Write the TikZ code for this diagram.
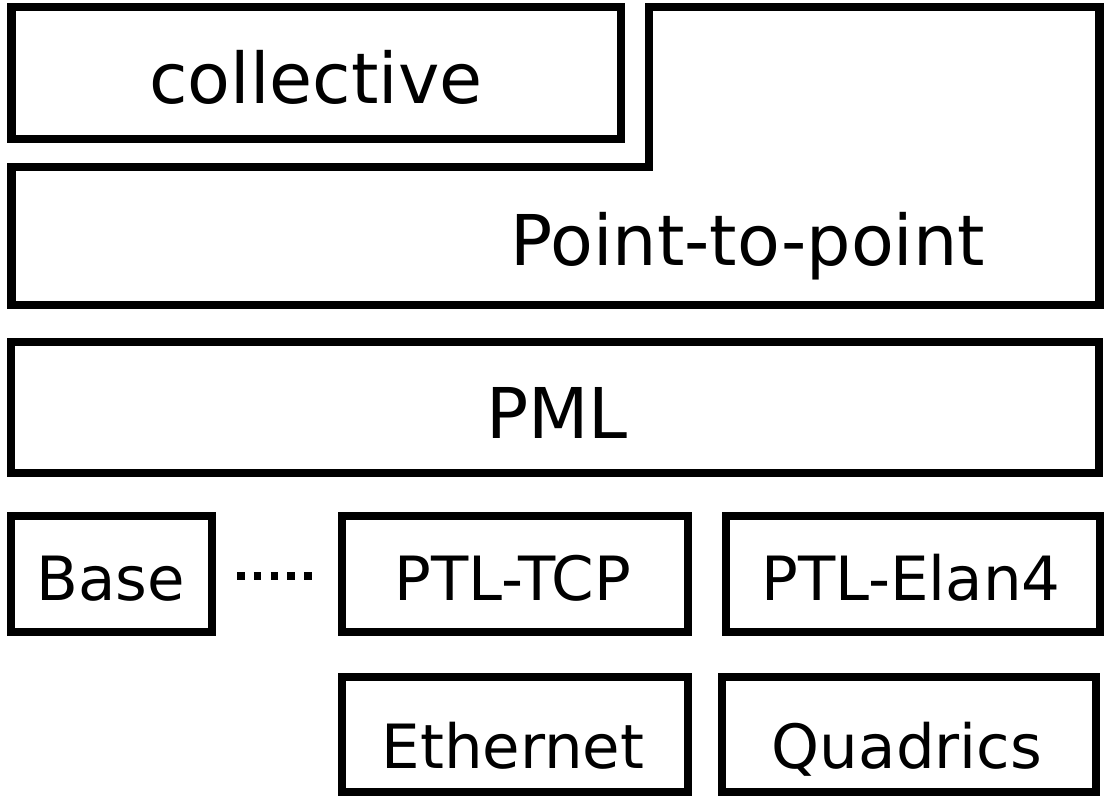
\documentclass[tikz,border=0pt]{standalone}
\usepackage{fontspec}
\setmainfont{DejaVu Sans}
\usetikzlibrary{fit}

\tikzset{
  layer/.style={draw=black, line width=8.5pt, line join=miter, inner sep=0pt, fill=none},
  bigtxt/.style={anchor=base, inner sep=0pt, font=\fontsize{70}{84}\selectfont},
  smalltxt/.style={anchor=base, inner sep=0pt, font=\fontsize{61}{73}\selectfont},
  dotline/.style={draw=black, line width=8pt, dash pattern=on 7.5pt off 9.2pt}
}

\begin{document}
\begin{tikzpicture}[x=1pt, y=-1pt]
  \useasboundingbox[fill=white] (0,0) rectangle (1105,797);

  % collective layer
  \node[layer, fit={(11.5,7) (621,139)}] (coll) {};
  \node[bigtxt] (colltxt) at (316,104) {collective};

  % point-to-point layer, L-shaped around the collective layer
  \coordinate (p2pa) at (11.5,167);
  \coordinate (p2pb) at (649,167);
  \coordinate (p2pc) at (649,7);
  \coordinate (p2pd) at (1099.5,7);
  \coordinate (p2pe) at (1099.5,305);
  \coordinate (p2pf) at (11.5,305);
  \draw[layer] (p2pa) -- (p2pb) -- (p2pc) -- (p2pd) -- (p2pe) -- (p2pf) -- cycle;
  \node[bigtxt] (p2ptxt) at (748,265) {Point-to-point};

  % PML layer
  \node[layer, fit={(11,342) (1099,473)}] (pml) {};
  \node[bigtxt] (pmltxt) at (557,438) {PML};

  % PTL modules
  \node[layer, fit={(11,516) (212,632)}] (base) {};
  \node[smalltxt] (basetxt) at (111,600) {Base};
  \node[layer, fit={(342,516) (688,632)}] (tcp) {};
  \node[smalltxt] (tcptxt) at (513,600) {PTL-TCP};
  \node[layer, fit={(726,516) (1100,632)}] (elan) {};
  \node[smalltxt] (elantxt) at (911,600) {PTL-Elan4};

  % networks
  \node[layer, fit={(342,677) (688,792)}] (eth) {};
  \node[smalltxt] (ethtxt) at (513,768) {Ethernet};
  \node[layer, fit={(722,677) (1096,792)}] (quad) {};
  \node[smalltxt] (quadtxt) at (907,768) {Quadrics};

  % inheritance from the base module
  \draw[dotline, shorten <=21pt, shorten >=25pt]
    ([yshift=-2pt]base.east) -- ([yshift=-2pt]tcp.west);
\end{tikzpicture}
\end{document}
